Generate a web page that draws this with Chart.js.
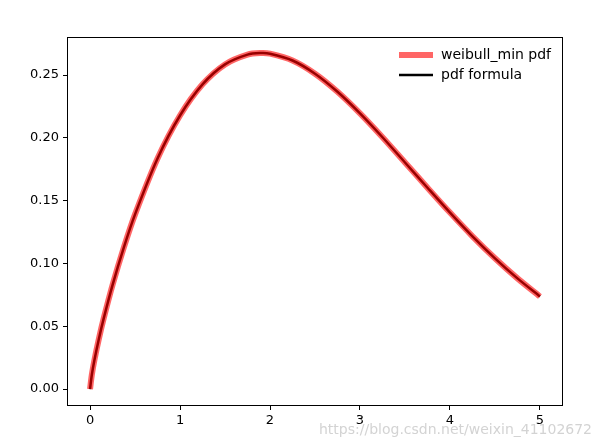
<!DOCTYPE html>
<html>
<head>
<meta charset="utf-8">
<script src="https://cdn.jsdelivr.net/npm/chart.js@4.4.0/dist/chart.umd.min.js"></script>
<style>
  html, body { margin: 0; padding: 0; background: #fff; }
  #wrap { width: 602px; height: 448px; position: relative; }
</style>
</head>
<body>
<div id="wrap"><canvas id="myChart" width="602" height="448"></canvas></div>
<script>
// values
const xValues = [0, 0.02, 0.05, 0.1, 0.15, 0.25, 0.375, 0.5, 0.75, 1.0, 1.25, 1.5, 1.75, 1.9, 2.0, 2.25, 2.5, 2.75, 3.0, 3.25, 3.5, 3.75, 4.0, 4.25, 4.5, 4.75, 5.0];
const pdfValues = [0, 0.0114, 0.0235, 0.0405, 0.0557, 0.0828, 0.1126, 0.1391, 0.1836, 0.2178, 0.2426, 0.2585, 0.2663, 0.2675, 0.2670, 0.2616, 0.2511, 0.2367, 0.2195, 0.2005, 0.1804, 0.1603, 0.1405, 0.1216, 0.1041, 0.0881, 0.0737];
const formulaValues = pdfValues.slice(); // kedua kurva saling menimpa
const xTicks = [0, 1, 2, 3, 4, 5];
const yTicks = [0, 0.05, 0.10, 0.15, 0.20, 0.25];
const seriesNames = ['weibull_min pdf', 'pdf formula'];

function toPoints(ys) {
    return xValues.map((x, i) => ({ x: x, y: ys[i] }));
}

// kotak sumbu + legenda + watermark
const extras = {
    id: 'extras',
    afterDraw(chart) {
        const ctx = chart.ctx;
        const a = chart.chartArea;
        ctx.save();
        ctx.strokeStyle = '#000';
        ctx.lineWidth = 1;
        ctx.strokeRect(a.left + 0.5, a.top + 0.5, a.right - a.left - 1, a.bottom - a.top - 1);

        // legend
        const ds = chart.data.datasets;
        const rows = [55, 75];
        ds.forEach((d, i) => {
            ctx.strokeStyle = d.borderColor;
            ctx.lineWidth = i === 0 ? 6 : 2.5;
            ctx.beginPath();
            ctx.moveTo(399, rows[i]);
            ctx.lineTo(433, rows[i]);
            ctx.stroke();
            ctx.fillStyle = '#000';
            ctx.font = '14px "DejaVu Sans", sans-serif';
            ctx.textBaseline = 'middle';
            ctx.fillText(d.label, 441, rows[i]);
        });

        ctx.fillStyle = 'rgba(200,200,200,0.8)';
        ctx.font = '14px "DejaVu Sans", sans-serif';
        ctx.textBaseline = 'middle';
        ctx.fillText('https://blog.csdn.net/weixin_41102672', 319, 430);
        ctx.restore();
    }
};

const ctx = document.getElementById('myChart').getContext('2d');
const myChart = new Chart(ctx, {
    type: 'scatter',
    data: {
        datasets: [{
            label: seriesNames[0],
            data: toPoints(pdfValues),
            showLine: true,
            borderColor: 'rgba(255,0,0,0.6)',
            borderWidth: 6,
            pointRadius: 0,
            tension: 0.3
        }, {
            label: seriesNames[1],
            data: toPoints(formulaValues),
            showLine: true,
            borderColor: '#000',
            borderWidth: 2.5,
            pointRadius: 0,
            tension: 0.3
        }]
    },
    options: {
        responsive: false,
        animation: false,
        layout: { padding: { top: 37, right: 39, bottom: 0, left: 0 } },
        plugins: { legend: { display: false }, tooltip: { enabled: false } },
        scales: {
            x: {
                type: 'linear',
                min: -0.256,
                max: 5.256,
                afterBuildTicks: axis => { axis.ticks = xTicks.map(v => ({ value: v })); },
                afterFit: axis => { axis.height = 42; },
                grid: { drawOnChartArea: false, tickLength: 4, color: '#000' },
                border: { display: false },
                ticks: { color: '#000', font: { family: 'DejaVu Sans', size: 13 }, padding: 3, maxRotation: 0, callback: v => String(v) }
            },
            y: {
                min: -0.0135,
                max: 0.2803,
                afterBuildTicks: axis => { axis.ticks = yTicks.map(v => ({ value: v })); },
                afterFit: axis => { axis.width = 67; },
                grid: { drawOnChartArea: false, tickLength: 4, color: '#000' },
                border: { display: false },
                ticks: { color: '#000', font: { family: 'DejaVu Sans', size: 13 }, padding: 4, callback: v => v.toFixed(2) }
            }
        }
    },
    plugins: [extras]
});
</script>
</body>
</html>
